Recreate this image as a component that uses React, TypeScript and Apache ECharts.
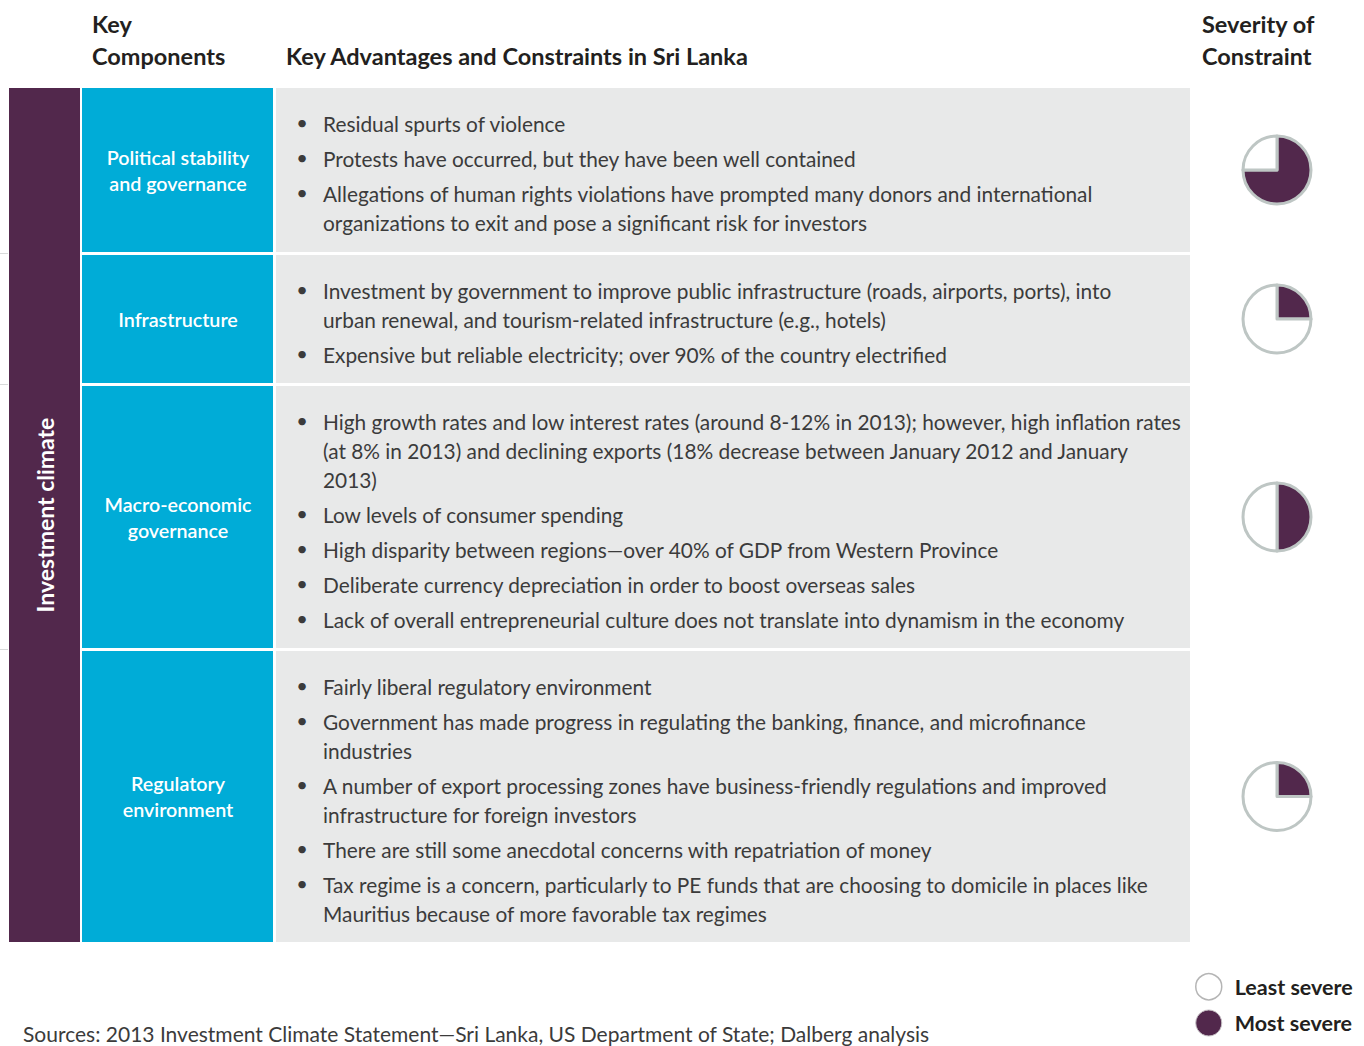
import React, { useEffect, useRef } from "react";
import * as echarts from "echarts";

const PURPLE = "#52284c";
const BLUE = "#00acd7";
const GREY_BG = "#e8e9e9";
const RING = "#bec6c4";
const TEXT = "#3b3b3b";
const HEAD = "#231f20";
const FONT = "Lato, 'Open Sans', sans-serif";

const headerComponents = ["Key", "Components"];
const headerAdvantages = "Key Advantages and Constraints in Sri Lanka";
const headerSeverity = ["Severity of", "Constraint"];
const sideLabel = "Investment climate";

const components = [
  ["Political stability", "and governance"],
  ["Infrastructure"],
  ["Macro-economic", "governance"],
  ["Regulatory", "environment"],
];

// severity of constraint, percent of ball filled
const severity = [75, 25, 50, 25];

const bulletsPolitical = [
  ["Residual spurts of violence"],
  ["Protests have occurred, but they have been well contained"],
  [
    "Allegations of human rights violations have prompted many donors and international",
    "organizations to exit and pose a significant risk for investors",
  ],
];
const bulletsInfra = [
  [
    "Investment by government to improve public infrastructure (roads, airports, ports), into",
    "urban renewal, and tourism-related infrastructure (e.g., hotels)",
  ],
  ["Expensive but reliable electricity; over 90% of the country electrified"],
];
const bulletsMacro = [
  [
    "High growth rates and low interest rates (around 8-12% in 2013); however, high inflation rates",
    "(at 8% in 2013) and declining exports (18% decrease between January 2012 and January",
    "2013)",
  ],
  ["Low levels of consumer spending"],
  ["High disparity between regions\u2014over 40% of GDP from Western Province"],
  ["Deliberate currency depreciation in order to boost overseas sales"],
  ["Lack of overall entrepreneurial culture does not translate into dynamism in the economy"],
];
const bulletsRegulatory = [
  ["Fairly liberal regulatory environment"],
  [
    "Government has made progress in regulating the banking, finance, and microfinance",
    "industries",
  ],
  [
    "A number of export processing zones have business-friendly regulations and improved",
    "infrastructure for foreign investors",
  ],
  ["There are still some anecdotal concerns with repatriation of money"],
  [
    "Tax regime is a concern, particularly to PE funds that are choosing to domicile in places like",
    "Mauritius because of more favorable tax regimes",
  ],
];
const bullets = [bulletsPolitical, bulletsInfra, bulletsMacro, bulletsRegulatory];

const legendNames = ["Least severe", "Most severe"];
const sourceText =
  "Sources: 2013 Investment Climate Statement\u2014Sri Lanka, US Department of State; Dalberg analysis";

// layout
const rowBounds = [
  [88, 252],
  [255, 383],
  [386, 648],
  [651, 942],
];

function buildOption() {
  const graphics: any[] = [];

  const headText = (text: string, x: number, y: number) => ({
    type: "text",
    x,
    y,
    style: {
      text,
      fill: HEAD,
      fontFamily: FONT,
      fontWeight: "bold",
      fontSize: 23.5,
      verticalAlign: "middle",
      align: "left",
    },
  });
  graphics.push(headText(headerComponents[0], 92, 24));
  graphics.push(headText(headerComponents[1], 92, 56));
  graphics.push(headText(headerAdvantages, 286, 56));
  graphics.push(headText(headerSeverity[0], 1202, 24));
  graphics.push(headText(headerSeverity[1], 1202, 56));

  graphics.push({
    type: "rect",
    shape: { x: 9, y: 88, width: 71, height: 854 },
    style: { fill: PURPLE },
  });
  graphics.push({
    type: "text",
    x: 45,
    y: 515,
    rotation: Math.PI / 2,
    style: {
      text: sideLabel,
      fill: "#ffffff",
      fontFamily: FONT,
      fontWeight: "bold",
      fontSize: 23,
      align: "center",
      verticalAlign: "middle",
    },
  });

  rowBounds.forEach(([top, bottom], i) => {
    const h = bottom - top;
    const mid = (top + bottom) / 2;
    if (i > 0) {
      graphics.push({
        type: "line",
        shape: { x1: 0, y1: top - 1.5, x2: 8, y2: top - 1.5 },
        style: { stroke: "#d8dada", lineWidth: 1 },
      });
    }
    graphics.push({
      type: "rect",
      shape: { x: 82, y: top, width: 191, height: h },
      style: { fill: BLUE },
    });
    graphics.push({
      type: "rect",
      shape: { x: 276, y: top, width: 914, height: h },
      style: { fill: GREY_BG },
    });
    const lines = components[i];
    lines.forEach((ln, k) => {
      graphics.push({
        type: "text",
        x: 178,
        y: mid + (k - (lines.length - 1) / 2) * 26,
        style: {
          text: ln,
          fill: "#ffffff",
          fontFamily: FONT,
          fontWeight: 600,
          fontSize: 19.7,
          align: "center",
          verticalAlign: "middle",
        },
      });
    });
    let y = top + 35;
    bullets[i].forEach((item, j) => {
      if (j > 0) y += 35;
      graphics.push({
        type: "text",
        x: 302,
        y: y - 1,
        style: {
          text: "\u2022",
          fill: TEXT,
          fontFamily: FONT,
          fontSize: 20,
          align: "center",
          verticalAlign: "middle",
        },
      });
      item.forEach((ln, k) => {
        if (k > 0) y += 29;
        graphics.push({
          type: "text",
          x: 323,
          y,
          style: {
            text: ln,
            fill: TEXT,
            fontFamily: FONT,
            fontSize: 20.85,
            align: "left",
            verticalAlign: "middle",
          },
        });
      });
    });
  });

  graphics.push({
    type: "text",
    x: 23,
    y: 1033,
    style: {
      text: sourceText,
      fill: TEXT,
      fontFamily: FONT,
      fontSize: 21,
      align: "left",
      verticalAlign: "middle",
    },
  });

  const series = rowBounds.map(([top, bottom], i) => ({
    type: "pie",
    center: [1277, (top + bottom) / 2],
    radius: [0, 34],
    startAngle: 90,
    clockwise: true,
    silent: true,
    label: { show: false },
    labelLine: { show: false },
    emphasis: { disabled: true },
    itemStyle: { borderColor: RING, borderWidth: 3 },
    data: [
      { value: severity[i], name: legendNames[1], itemStyle: { color: PURPLE } },
      { value: 100 - severity[i], name: legendNames[0], itemStyle: { color: "#ffffff" } },
    ],
  }));

  return {
    animation: false,
    backgroundColor: "#ffffff",
    legend: {
      orient: "vertical",
      left: 1195,
      top: 973,
      padding: 0,
      itemWidth: 26,
      itemHeight: 26,
      itemGap: 9,
      icon: "circle",
      selectedMode: false,
      data: [
        { name: legendNames[0], itemStyle: { color: "#ffffff", borderColor: "#b5b5b5", borderWidth: 1.5 } },
        { name: legendNames[1], itemStyle: { color: PURPLE, borderColor: "#c5bfc4", borderWidth: 1 } },
      ],
      textStyle: {
        color: HEAD,
        fontFamily: FONT,
        fontWeight: "bold",
        fontSize: 21.5,
        padding: [2, 0, 0, 8],
      },
    },
    graphic: graphics,
    series,
  };
}

export default function App() {
  const ref = useRef<HTMLDivElement>(null);
  useEffect(() => {
    document.body.style.margin = "0";
    if (!ref.current) return;
    const chart = echarts.init(ref.current, undefined, { renderer: "svg" });
    chart.setOption(buildOption() as any);
    return () => chart.dispose();
  }, []);
  return <div ref={ref} style={{ width: 1364, height: 1046 }} />;
}
